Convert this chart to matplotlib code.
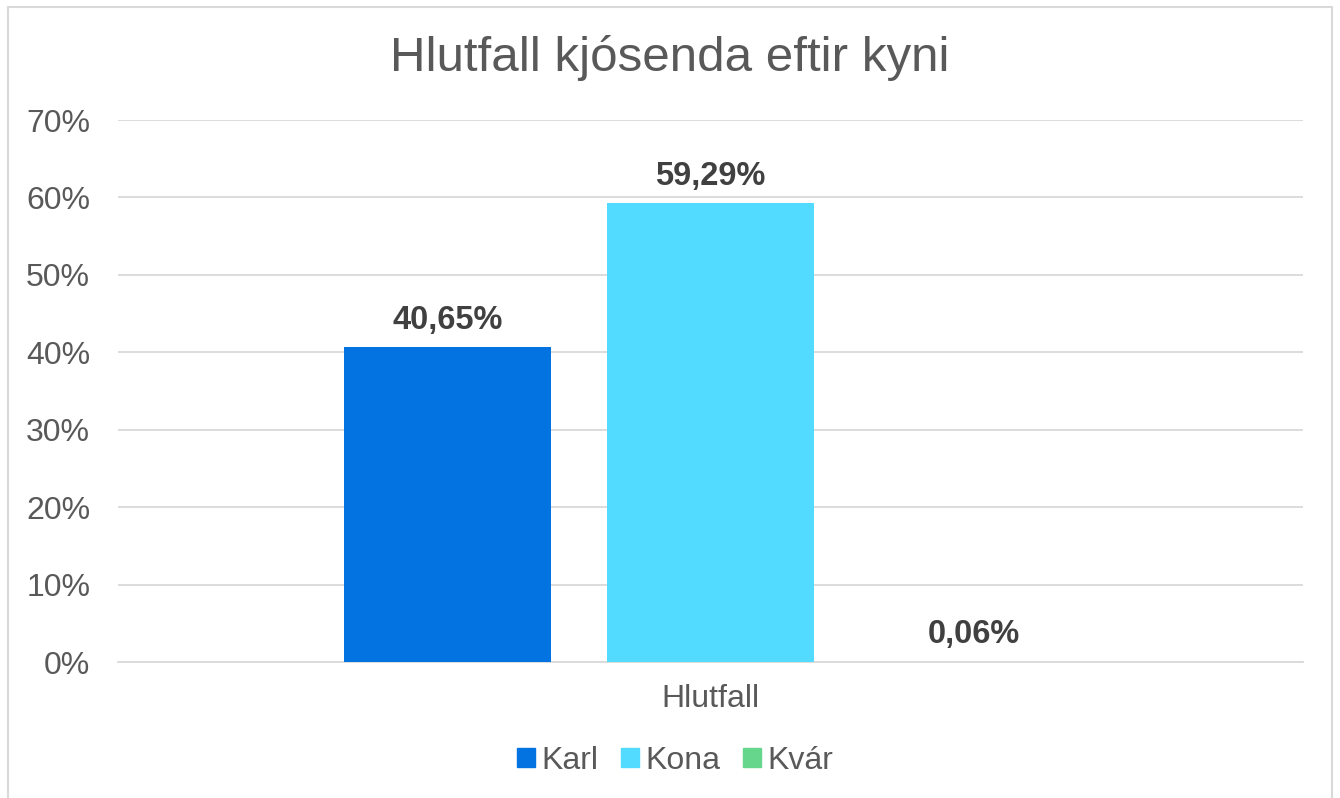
import matplotlib.pyplot as plt
from matplotlib.patches import Rectangle, Patch

# gögn
flokkar = ["Karl", "Kona", "Kvár"]
hlutfall = [40.65, 59.29, 0.06]
merki = ["40,65%", "59,29%", "0,06%"]
litir = ["#0473E2", "#52DBFE", "#66D68C"]
flokkur_as = "Hlutfall"
y_ticks = [0, 10, 20, 30, 40, 50, 60, 70]

plt.rcParams['font.family'] = ['Liberation Sans', 'DejaVu Sans']
texti = "#595959"

fig = plt.figure(figsize=(13.4, 7.98), dpi=100)
ax = fig.add_axes([118 / 1340, 1 - 662 / 798, 1185 / 1340, 542 / 798])

# súlur
breidd = 207 / 1185
bil = 263 / 1185
for i, (nafn, gildi, lit, m) in enumerate(zip(flokkar, hlutfall, litir, merki)):
    x = 0.5 + (i - 1) * bil
    ax.bar(x, gildi, width=breidd, color=lit, label=nafn, zorder=3)
    ax.annotate(m, (x, gildi), xytext=(0, 8), textcoords="offset points",
                ha="center", va="bottom", fontsize=23.5, fontweight="bold",
                color="#404040")

ax.set_xlim(0, 1)
ax.set_ylim(0, 70)
ax.set_yticks(y_ticks)
ax.set_yticklabels([f"{t}%" for t in y_ticks])
ax.set_xticks([0.5])
ax.set_xticklabels([flokkur_as])
ax.tick_params(axis="both", length=0, labelsize=23, labelcolor=texti)
ax.tick_params(axis="y", pad=20)
ax.tick_params(axis="x", pad=16)
ax.grid(axis="y", color="#d9d9d9", linewidth=1.3, zorder=0)
for s in ["top", "right", "left"]:
    ax.spines[s].set_visible(False)
ax.spines["bottom"].set_color("#d9d9d9")
ax.spines["bottom"].set_linewidth(1.3)

fig.text(0.5, 1 - 58 / 798, "Hlutfall kjósenda eftir kyni", ha="center",
         va="center", fontsize=35.5, color=texti)

handles = [Patch(color=c) for c in litir]
fig.legend(handles, flokkar, loc="center", bbox_to_anchor=(0.504, 1 - 761 / 798),
           ncol=3, frameon=False, fontsize=23, labelcolor=texti,
           handlelength=0.55, handleheight=0.55, handletextpad=0.2,
           columnspacing=0.72)

# rammi
fig.patches.append(Rectangle((8 / 1340, -0.02), 1324 / 1340, 1 - 7 / 798 + 0.02,
                             transform=fig.transFigure, fill=False,
                             edgecolor="#d9d9d9", linewidth=1.5))

fig.savefig("out.png", dpi=100)
